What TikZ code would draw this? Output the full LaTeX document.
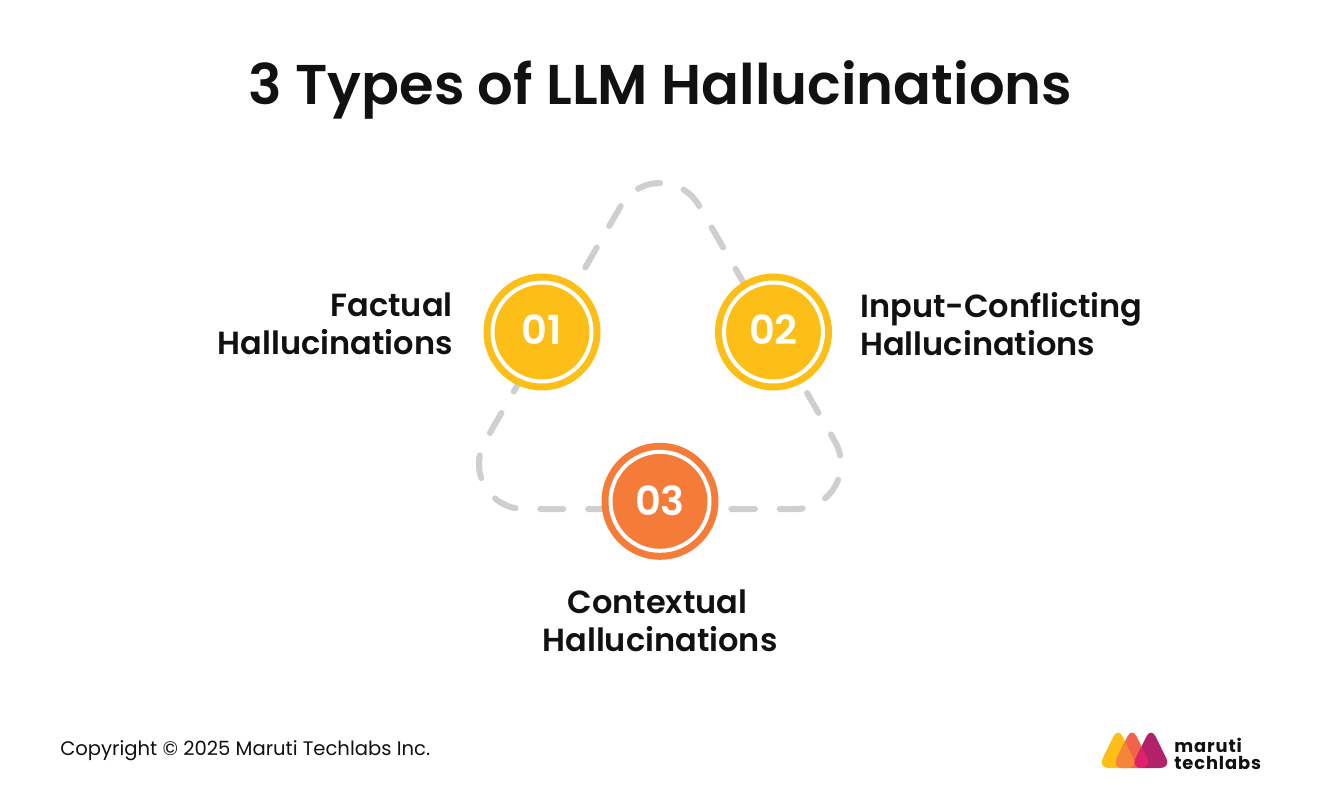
\documentclass[tikz,border=0pt]{standalone}
\usepackage{fontspec}
\setmainfont{Poppins}
\newfontfamily\semibold{Poppins SemiBold}
\newfontfamily\brandfont[LetterSpace=5]{Poppins Bold}
\usetikzlibrary{positioning}
\definecolor{amber}{HTML}{FDBF17}
\definecolor{tangerine}{HTML}{F57C38}
\definecolor{track}{HTML}{CFCFCF}
\definecolor{ink}{HTML}{111111}
\definecolor{logored}{HTML}{F2644A}
\definecolor{logopink}{HTML}{E0206B}
\definecolor{logoplum}{HTML}{B2226A}
\definecolor{logomid}{HTML}{F6853C}
\newcommand{\logodrop}[1]{(#1,727) -- (#1-20,768) -- (#1+20,768) -- cycle}
\begin{document}
\begin{tikzpicture}[
x=0.75pt,y=-0.75pt,
badge/.style={
  circle,
  draw=#1,
  fill=#1,
  line width=5.25pt,
  double=white,
  double distance=3pt,
  minimum size=74.25pt,
  inner sep=0pt,
  text=white,
  text depth=3pt,
  font=\semibold\fontsize{30}{30}\selectfont
  },
caption/.style={
  text=ink,
  inner sep=0pt,
  font=\semibold\fontsize{24}{28.5}\selectfont
  },
dashline/.style={
  draw=track,
  line width=4.5pt,
  line cap=round,
  dash pattern=on 17.25pt off 18.58pt
  },
]
\useasboundingbox[fill=white] (0,0) rectangle (1321,798);

\node[text=ink, font=\semibold\fontsize{42}{42}\selectfont] (title) at (660.5,90) {3 Types of LLM Hallucinations};

% dashed triangle behind the badges
\coordinate (start) at (732,509);
\coordinate (r1) at (796,509);
\coordinate (t1) at (699,205.5);
\coordinate (l1) at (485,441.5);
\draw[dashline] (start) -- (r1) arc[start angle=-90, end angle=30, radius=33.75pt]
  -- (t1) arc[start angle=30, end angle=150, radius=33.75pt]
  -- (l1) arc[start angle=150, end angle=270, radius=33.75pt] -- (start);

\node[badge=amber] (b1) at (542,332) {01};
\node[badge=amber] (b2) at (773.5,332) {02};
\node[badge=tangerine, text depth=1.5pt] (b3) at (660,501.3) {03};

\node[caption, align=right, anchor=east] (c1) at (453,324) {Factual\\Hallucinations};
\node[caption, align=left, anchor=west] (c2) at (860,324) {Input-Conflicting\\Hallucinations};
\node[caption, align=center, anchor=north] (c3) at (660,590) {Contextual\hspace*{4pt}\\Hallucinations};

\node[text=ink, anchor=west, inner sep=0pt, font=\fontsize{14.7}{18}\selectfont] (copy) at (60,751) {Copyright © 2025 Maruti Techlabs Inc.};

% logo
\fill[amber, rounded corners=8pt] \logodrop{1118};
\fill[logored, rounded corners=8pt] \logodrop{1132};
\fill[logoplum, rounded corners=8pt] \logodrop{1151};
\begin{scope}
\clip[rounded corners=8pt] \logodrop{1118};
\fill[logomid, rounded corners=8pt] \logodrop{1132};
\end{scope}
\begin{scope}
\clip[rounded corners=8pt] \logodrop{1132};
\fill[logopink, rounded corners=8pt] \logodrop{1151};
\end{scope}
\node[text=ink, anchor=west, inner sep=0pt, font=\brandfont\fontsize{13.4}{12.5}\selectfont, align=left] (brand) at (1174,754) {maruti\\techlabs};
\end{tikzpicture}
\end{document}
